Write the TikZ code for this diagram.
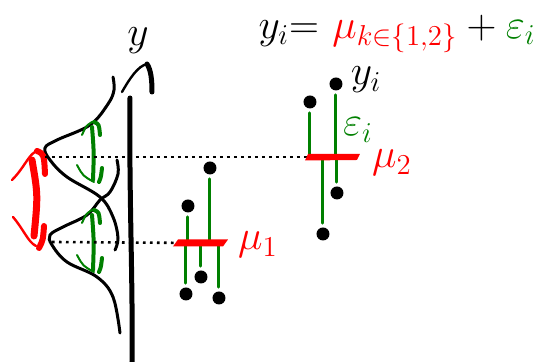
\documentclass[tikz,border=0pt]{standalone}
\begin{document}
\begin{tikzpicture}[x=0.5pt,y=-0.5pt,line cap=round,
  dot/.style={circle,fill,inner sep=0pt,minimum size=6.5pt},
  err/.style={green!50!black,line width=1.5pt},
  dots/.style={line width=1.3pt,line cap=butt,dash pattern=on 1.3pt off 2.2pt},
  big/.style={font=\fontsize{22.4}{27}\selectfont},
  small/.style={font=\fontsize{20}{24}\selectfont}]
\useasboundingbox (0,0) rectangle (543,362);
\draw[line width=2.5pt] (130,98) .. controls (129,200) and (133,280) .. (132,362);
\draw[line width=1.2pt] (122,92) .. controls (130,78) and (138,66) .. (147,64);
\draw[line width=2.5pt] (147,64) .. controls (151,70) and (152,80) .. (152,92);
\node[big] (ylab) at (138,41) {$y$};
\draw[line width=1.5pt] plot[smooth,tension=0.6] coordinates {(113,77) (114,90) (108,104) (90,125) (57,140) (45,148) (50,160) (67,177) (100,197) (113,217) (118,238) (115,250)};
\draw[line width=1.5pt] plot[smooth,tension=0.6] coordinates {(117,160) (118,174) (110,192) (100,200) (87,215) (63,227) (50,235) (52,245) (67,262) (97,277) (113,297) (120,333)};
\draw[red,line width=1.2pt] (12,180) .. controls (24,168) and (28,156) .. (35,152);
\draw[red,line width=3pt] (37,151) .. controls (44,154) .. (45,174);
\draw[red,line width=3.5pt] (32,160) .. controls (38,195) .. (34,236);
\draw[red,line width=1.2pt] (13,217) .. controls (24,230) and (28,242) .. (36,246);
\draw[red,line width=3pt] (44,226) .. controls (43,240) .. (39,248);
\foreach \yt/\yb in {122/182,210/272}{
  \draw[err,line width=1pt] (82,\yt+13) .. controls (86,\yt+4) .. (92,\yt);
  \draw[err,line width=2pt] (94,\yt) .. controls (99,\yt+2) .. (100,\yt+13);
  \draw[err,line width=2pt] (92,\yt+5) .. controls (94,0.5*\yt+0.5*\yb) .. (93,\yb-2);
  \draw[err,line width=1pt] (77,\yb-17) .. controls (83,\yb-6) .. (94,\yb);
  \draw[err,line width=2pt] (102,\yb-14) .. controls (101,\yb-5) .. (99,\yb);
}
\coordinate (m1) at (200,243);
\coordinate (m2) at (333,157);
\coordinate (p1) at (45,157);
\coordinate (p2) at (52,242);
\draw[dots] (p1) -- (m2);
\draw[dots] (p2) -- (m1);
\node[dot] (a1) at (188,206) {};
\node[dot] (a2) at (210,168) {};
\node[dot] (a3) at (186,294) {};
\node[dot] (a4) at (201,277) {};
\node[dot] (a5) at (219,298) {};
\node[dot] (b1) at (310,102) {};
\node[dot] (b2) at (336,84) {};
\node[dot] (b3) at (337,193) {};
\node[dot] (b4) at (323,234) {};
\foreach \p in {a1,a2,a3,a4,a5}{\draw[err,shorten <=2pt] (\p) -- (\p |- m1);}
\foreach \p in {b1,b2,b3,b4}{\draw[err,shorten <=2pt] (\p) -- (\p |- m2);}
\fill[red,shift={(m1)}] (-22,-3.5) -- (28,-3.5) -- (23,3.5) -- (-27,3.5) -- cycle;
\fill[red,shift={(m2)}] (-25,-3) -- (27,-3) -- (24,3) -- (-28,3.5) -- cycle;
\node[big,red] (mu1) at (258,245) {$\mu_1$};
\node[big,red] (mu2) at (392,163) {$\mu_2$};
\node[small] (yi) at (366,80) {$y_i$};
\node[small,green!50!black] (ei) at (358,130) {$\varepsilon_i$};
\node[big] (eq) at (397,34) {$y_i{=}\ \textcolor{red}{\mu_{k\in\{1,2\}}}+\textcolor{green!50!black}{\varepsilon_i}$};
\end{tikzpicture}
\end{document}
